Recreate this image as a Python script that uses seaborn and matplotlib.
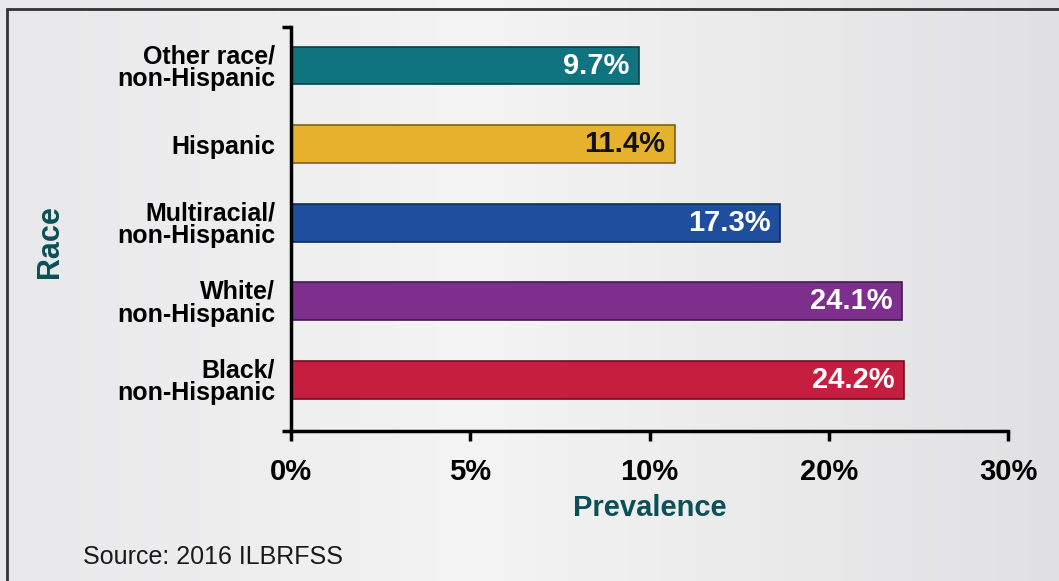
import numpy as np
import pandas as pd
import matplotlib
matplotlib.use("Agg")
import matplotlib.pyplot as plt
import matplotlib.colors as mcolors
from matplotlib.patches import Rectangle
import seaborn as sns

# ---- data ----
categories = ["Other race/\nnon-Hispanic", "Hispanic", "Multiracial/\nnon-Hispanic",
              "White/\nnon-Hispanic", "Black/\nnon-Hispanic"]
prevalence = [9.7, 11.4, 17.3, 24.1, 24.2]
value_labels = ["9.7%", "11.4%", "17.3%", "24.1%", "24.2%"]
bar_colors = ["#0f7480", "#e6b12c", "#1f4e9e", "#7e2f8e", "#c61e3e"]
label_colors = ["white", "#111111", "white", "white", "white"]
x_ticks = [0, 5, 10, 20, 30]
x_ticklabels = ["0%", "5%", "10%", "20%", "30%"]
source_text = "Source: 2016 ILBRFSS"

df = pd.DataFrame({"Race": categories, "Prevalence": prevalence})

sns.set_theme(style="white")
plt.rcParams["font.family"] = ["Liberation Sans", "DejaVu Sans"]

W, H = 1059, 581
fig = plt.figure(figsize=(W / 100, H / 100), dpi=100)

# background gradient
bg = fig.add_axes([0, 0, 1, 1], zorder=-10)
bg.axis("off")
cmap = mcolors.LinearSegmentedColormap.from_list(
    "bg", [(0.0, "#e8e8ea"), (0.45, "#f4f4f4"), (1.0, "#e1e1e3")])
grad = np.linspace(0, 1, 256)[None, :]
bg.imshow(grad, aspect="auto", cmap=cmap, extent=[0, 1, 0, 1])
bg.set_xlim(0, 1)
bg.set_ylim(0, 1)

# frame
fig.patches.append(Rectangle((7 / W, -0.05), 1.1, 1 - 9 / H + 0.05,
                             transform=fig.transFigure, fill=False,
                             edgecolor="#333333", linewidth=2, zorder=5))

left, right = 291 / W, 1008 / W
bottom, top = 1 - 431 / H, 1 - 27 / H
ax = fig.add_axes([left, bottom, right - left, top - bottom])
ax.set_facecolor("none")

sns.barplot(data=df, x="Prevalence", y="Race", hue="Race", palette=bar_colors,
            orient="h", width=0.48, legend=False, ax=ax, saturation=1)


def fwd(x):
    x = np.asarray(x, dtype=float)
    return np.where(x <= 10, x / 5.0, 2.0 + (x - 10.0) / 10.0)


def inv(u):
    u = np.asarray(u, dtype=float)
    return np.where(u <= 2, u * 5.0, 10.0 + (u - 2.0) * 10.0)


ax.set_xscale("function", functions=(fwd, inv))
ax.set_xlim(0, 30)
y_lo, y_hi = 4.65, -0.49
ax.set_ylim(y_lo, y_hi)

for patch, col in zip(ax.patches, bar_colors):
    dark = np.array(mcolors.to_rgb(col)) * 0.55
    patch.set_edgecolor(dark)
    patch.set_linewidth(1.2)

for patch, txt, tc in zip(ax.patches, value_labels, label_colors):
    xe = patch.get_x() + patch.get_width()
    yc = patch.get_y() + patch.get_height() / 2
    ax.annotate(txt, (xe, yc), xytext=(-7, 0), textcoords="offset points",
                ha="right", va="center", fontsize=21, fontweight="bold", color=tc)

# axes styling
for s in ["top", "right"]:
    ax.spines[s].set_visible(False)
for s in ["left", "bottom"]:
    ax.spines[s].set_color("black")
    ax.spines[s].set_linewidth(2.5)

ax.set_xticks(x_ticks)
ax.set_xticklabels(x_ticklabels)
ax.xaxis.set_minor_locator(matplotlib.ticker.NullLocator())
ax.tick_params(axis="x", which="major", bottom=True, direction="out", length=7.5,
               width=2.5, color="black", pad=12, labelsize=21, labelcolor="black")
for t in ax.get_xticklabels():
    t.set_fontweight("bold")

ax.tick_params(axis="y", which="major", left=True, length=0, pad=11.5, labelsize=18,
               labelcolor="black")
for t in ax.get_yticklabels():
    t.set_fontweight("bold")
    t.set_linespacing(0.95)
ax.set_yticks([y_hi, y_lo], minor=True)
ax.tick_params(axis="y", which="minor", left=True, direction="out", length=6.5,
               width=2.5, color="black")

ax.set_xlabel("Prevalence", fontsize=21, fontweight="bold", color="#0b5056")
ax.set_ylabel("Race", fontsize=22, fontweight="bold", color="#0b5056")
ax.xaxis.set_label_coords(0.5, -(508 - 431) / 404)
ax.xaxis.label.set_va("center")
ax.yaxis.set_label_coords((50 - 291) / 717, 1 - (242 - 27) / 404)
ax.yaxis.label.set_va("center")

fig.text(83 / W, 1 - 557 / H, source_text, fontsize=18, color="#1a1a1a",
         ha="left", va="center")

fig.savefig("out.png", dpi=100)
